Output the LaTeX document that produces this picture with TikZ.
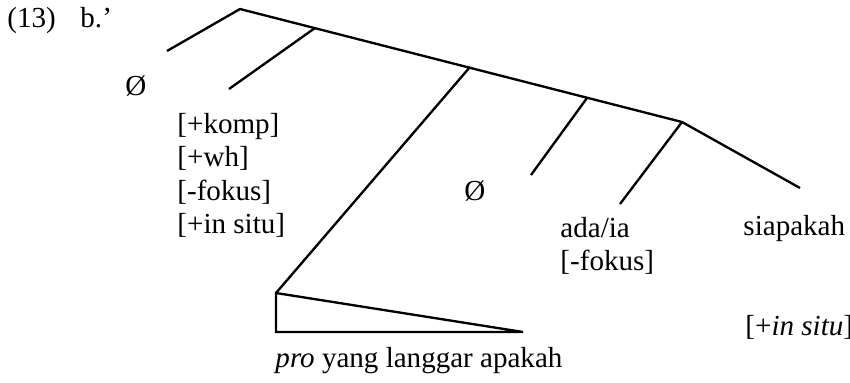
\documentclass[tikz,border=0pt]{standalone}
\usepackage{fontspec}
\setmainfont{Liberation Serif}
\usepackage{tikz}
\tikzset{
  line/.style={draw=black, line width=1pt},
  lbl/.style={text=black, font=\fontsize{12.4}{14}\selectfont, inner sep=0pt, anchor=base west}
}
\begin{document}
\begin{tikzpicture}[x=0.015cm, y=-0.015cm]
  \useasboundingbox (0,0) rectangle (850,382);
  \coordinate (root) at (240,9);
  \coordinate (leafA) at (167,51);
  \coordinate (nodeB) at (315,28);
  \coordinate (leafB) at (229,89);
  \coordinate (nodeC) at (470,67);
  \coordinate (triTop) at (276,293);
  \coordinate (triLeft) at (276,332);
  \coordinate (triRight) at (523,332);
  \coordinate (nodeD) at (587,98);
  \coordinate (leafD) at (531,175);
  \coordinate (nodeE) at (682,122);
  \coordinate (leafE) at (620,204);
  \coordinate (leafF) at (800,188);

  \draw[line] (leafA) -- (root) -- (nodeE) -- (leafF);
  \draw[line] (nodeB) -- (leafB);
  \draw[line] (nodeC) -- (triTop);
  \draw[line] (nodeD) -- (leafD);
  \draw[line] (nodeE) -- (leafE);
  \draw[line, line join=miter] (triTop) -- (triLeft) -- (triRight) -- cycle;

  \node[lbl] (exnum) at (7,27) {(13)};
  \node[lbl] (exlet) at (80,27) {b.’};
  \node[lbl] (nullA) at (125,95) {Ø};
  \node[lbl] (komp) at (177,133) {[+komp]};
  \node[lbl] (wh) at (177,166) {[+wh]};
  \node[lbl] (fokusA) at (177,200) {[-fokus]};
  \node[lbl] (situA) at (177,233) {[+in situ]};
  \node[lbl] (nullB) at (464,200) {Ø};
  \node[lbl] (adaia) at (560,237) {ada/ia};
  \node[lbl] (fokusB) at (560,270) {[-fokus]};
  \node[lbl] (siapakah) at (743,235) {siapakah};
  \node[lbl] (situB) at (745,335) {[+\textit{in situ}]};
  \node[lbl] (phrase) at (275,367) {\textit{pro} yang langgar apakah};
\end{tikzpicture}
\end{document}
